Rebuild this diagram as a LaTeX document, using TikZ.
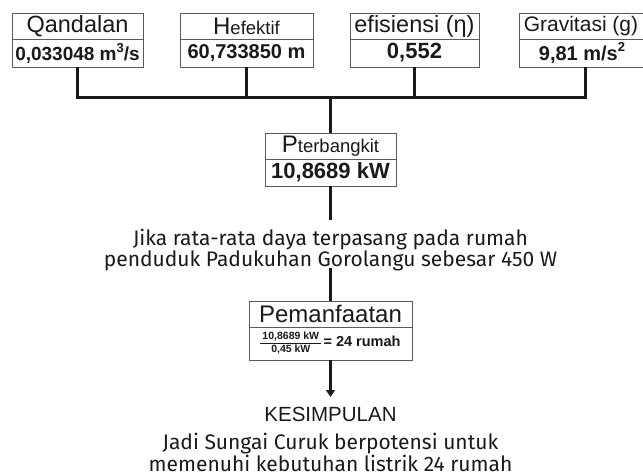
\documentclass[tikz,border=0pt]{standalone}
\usepackage{fontspec}
\setmainfont{Liberation Sans}
\newfontfamily\fira{Fira Sans}
\usetikzlibrary{arrows.meta}
\definecolor{boxgray}{HTML}{5A5A5A}
\definecolor{ink}{HTML}{1A1A1A}
\newcommand{\fs}[1]{\fontsize{#1}{#1}\selectfont}
\newcommand{\sups}[1]{\raisebox{0.42em}{\fontsize{13}{13}\selectfont #1}}
\tikzset{
  cell/.style={draw=boxgray, line width=0.9pt, inner sep=0pt, fill=white, text=ink},
  toprow/.style={cell, minimum height=26pt},
  botrow/.style={cell, minimum height=28pt},
  conn/.style={draw=ink, line width=3pt},
  humtext/.style={inner sep=0pt, anchor=base, text=ink, font=\fira\fs{21}},
}
\begin{document}
\begin{tikzpicture}[x=1pt,y=-1pt]
\useasboundingbox (0,0) rectangle (643,476);
% top boxes
\node[toprow, minimum width=131pt] (qt) at (77.5,26) {\fs{23.5}Qandalan};
\node[botrow, minimum width=131pt] (qb) at (77.5,53) {\fs{19}\bfseries 0,033048 m\sups{3}/s};
\node[toprow, minimum width=133pt] (ht) at (246.5,26) {\fs{24}H\fs{18.5}efektif};
\node[botrow, minimum width=133pt] (hb) at (246.5,53) {\fs{20}\bfseries 60,733850 m};
\node[toprow, minimum width=129pt] (et) at (414.5,26) {\fs{23.5}efisiensi (η)};
\node[botrow, minimum width=129pt] (eb) at (414.5,53) {\fs{22}\bfseries 0,552};
\node[toprow, minimum width=132pt] (gt) at (585,26) {\fs{21}Gravitasi (g)\hspace*{8pt}};
\node[botrow, minimum width=132pt] (gb) at (585,53) {\fs{20}\bfseries 9,81 m/s\sups{2}\hspace*{6pt}};
% connectors to P
\coordinate (j) at (330.5,98);
\draw[conn] (qb.south) |- (j) -| (gb.south);
\draw[conn] (hb.south) -- (hb.south |- j);
\draw[conn] (eb.south) -- (eb.south |- j);
% P box
\node[toprow, minimum width=131pt] (pt) at (330.5,146) {\fs{24}P\fs{18.5}terbangkit};
\node[botrow, minimum width=131pt, minimum height=27pt] (pb) at (330.5,172.5) {\fs{22}\bfseries 10,8689 kW};
\draw[conn] (j) -- (pt.north);
% middle text
\coordinate (t1) at (330.5,220);
\coordinate (t2) at (330.5,268);
\draw[conn] (pb.south) -- (t1);
\node[humtext] (l1) at (330.5,245) {Jika rata-rata daya terpasang pada rumah};
\node[humtext] (l2) at (330.5,266) {penduduk Padukuhan Gorolangu sebesar 450 W};
% Pemanfaatan
\node[toprow, minimum width=163pt] (mt) at (330.5,314) {\fs{24}Pemanfaatan};
\node[botrow, minimum width=163pt, minimum height=33pt] (mb) at (330.5,343.5)
  {\fs{10.5}\bfseries\renewcommand{\arraystretch}{1.2}\setlength{\tabcolsep}{2pt}%
   $\vcenter{\hbox{\begin{tabular}{c}10,8689 kW\\\hline 0,45 kW\end{tabular}}}$%
   \fs{14.5}\bfseries\,= 24 rumah};
\draw[conn] (t2) -- (mt.north);
\coordinate (a1) at (330.5,397);
\draw[conn, -{Triangle[width=9pt,length=7pt]}] (mb.south) -- (a1);
% conclusion
\node[inner sep=0pt, anchor=base, text=ink, font=\fs{20.5}] (k) at (330.5,421) {KESIMPULAN};
\node[humtext] (c1) at (330.5,449) {Jadi Sungai Curuk berpotensi untuk};
\node[humtext] (c2) at (330.5,471) {memenuhi kebutuhan listrik 24 rumah};
\end{tikzpicture}
\end{document}
